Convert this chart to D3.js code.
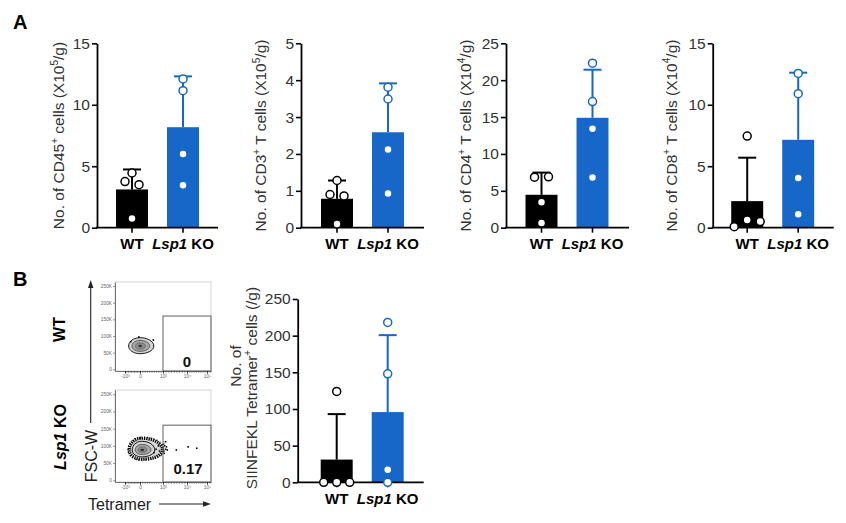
<!DOCTYPE html>
<html><head><meta charset="utf-8">
<script src="https://cdn.jsdelivr.net/npm/d3@7"></script>
<style>
body{margin:0;background:#fff}
svg{display:block}
text{font-family:"Liberation Sans",Arial,Helvetica,sans-serif}
</style>
</head><body>
<svg id="c" width="846" height="523"></svg>
<script>
// ---------------- data ----------------
const groups = ["WT", "Lsp1 KO"];
const cd45WT = [4.45, 3.75, 3.5, 0.75];
const cd45KO = [12.1, 11.15, 6.0, 3.45];
const cd3WT = [1.28, 0.9, 0.86, 0.1];
const cd3KO = [3.81, 3.49, 2.12, 0.93];
const cd4WT = [6.85, 6.9, 3.45, 0.65];
const cd4KO = [22.3, 17.1, 13.4, 6.8];
const cd8WT = [7.45, 0.08, 0.62, 0.5];
const cd8KO = [12.55, 10.9, 4.05, 1.1];
const tetWT = [124, 0, 0, 0];
const tetKO = [218, 148, 17, 0];

const ticksCD45 = [0, 5, 10, 15];
const ticksCD3 = [0, 1, 2, 3, 4, 5];
const ticksCD4 = [0, 5, 10, 15, 20, 25];
const ticksCD8 = [0, 5, 10, 15];
const ticksTet = [0, 50, 100, 150, 200, 250];

// flow cytometry panel data
const flowXDomain = [-1667, -1000, 0, 1000, 10000, 100000, 262144];
const flowXTicks = [-1000, 0, 1000, 10000, 100000];
const flowXTickLabels = ["-10³", "0", "10³", "10⁴", "10⁵"];
const flowYTicks = [0, 50000, 100000, 150000, 200000, 250000];
const flowYTickLabels = ["0", "50K", "100K", "150K", "200K", "250K"];
const gateLow = [1000, 160000];
const gateFreq = ["0", "0.17"];
const wtCenter = [0, 70000];
const wtLevels = [[760, 600, 25000, 23000], [540, 420, 17000, 16000], [300, 240, 9500, 9500], [110, 90, 3500, 3500]];
const wtEvents = [[-620, 83000], [580, 88000], [-80, 97000]];
const koCenter = [100, 88000];
const koRing = [820, 880, 34000, 27000];
const koLevels = [[620, 540, 25000, 20000], [420, 380, 16000, 13000], [220, 200, 9000, 7000], [90, 80, 3500, 3500]];
const koEvents = [[700, 90000], [800, 100000], [600, 80000], [850, 85000], [1100, 95000], [1300, 85000],
  [1600, 100000], [1200, 105000], [1500, 78000], [2000, 90000], [2600, 88000], [1950, 112000],
  [2300, 97000], [6000, 88000], [15300, 97000], [54000, 93000], [0, 122000]];

// ---------------- drawing ----------------
const BLUE = "#1767c9";
const svg = d3.select("#c");

function addParts(sel, parts, size) {
  let shifted = false;
  parts.forEach(([s, sup]) => {
    const t = sel.append("tspan").text(s);
    if (sup) { t.attr("font-size", size * 0.65).attr("dy", -size * 0.42); shifted = true; }
    else if (shifted) { t.attr("dy", size * 0.42); shifted = false; }
  });
}

function swarm(vals, y) {
  const idx = vals.map((v, i) => i).sort((a, b) => vals[b] - vals[a]);
  const grs = []; let cur = [idx[0]];
  for (let k = 1; k < idx.length; k++) {
    if (Math.abs(y(vals[idx[k]]) - y(vals[idx[k - 1]])) < 7) cur.push(idx[k]);
    else { grs.push(cur); cur = [idx[k]]; }
  }
  grs.push(cur);
  const off = new Array(vals.length).fill(0);
  grs.forEach(gr => {
    gr.sort((a, b) => a - b);
    const n = gr.length, sp = n === 2 ? 14 : 13;
    gr.forEach((id, j) => off[id] = (j - (n - 1) / 2) * sp);
  });
  return off;
}

function drawBar(cfg) {
  const g = svg.append("g");
  const y = d3.scaleLinear().domain([0, cfg.max]).range([cfg.bottom, cfg.top]);
  const x = d3.scaleBand().domain(groups)
    .range([cfg.axisX + cfg.c1 - 25.5, cfg.axisX + cfg.c1 + 51 + 25.5])
    .paddingInner(0.373).paddingOuter(0.1865);
  const series = [
    {key: groups[0], vals: cfg.wt, color: "#000"},
    {key: groups[1], vals: cfg.ko, color: BLUE}
  ];
  series.forEach(s => { s.mean = d3.mean(s.vals); s.sd = d3.deviation(s.vals); s.cx = x(s.key) + x.bandwidth() / 2; });

  g.selectAll("rect.bar").data(series).join("rect").attr("class", "bar")
    .attr("x", d => x(d.key)).attr("width", x.bandwidth())
    .attr("y", d => y(d.mean)).attr("height", d => y(0) - y(d.mean))
    .attr("fill", d => d.color);

  series.forEach(s => {
    g.append("line").attr("x1", s.cx).attr("x2", s.cx)
      .attr("y1", y(s.mean)).attr("y2", y(s.mean + s.sd))
      .attr("stroke", s.color).attr("stroke-width", 2);
    g.append("line").attr("x1", s.cx - 9).attr("x2", s.cx + 9)
      .attr("y1", y(s.mean + s.sd)).attr("y2", y(s.mean + s.sd))
      .attr("stroke", s.color).attr("stroke-width", 2);
  });

  // y axis
  const ya = g.append("g").attr("transform", `translate(${cfg.axisX},0)`)
    .call(d3.axisLeft(y).tickValues(cfg.ticks).tickFormat(d => String(d)).tickSize(5).tickPadding(2).tickSizeOuter(0));
  ya.select(".domain").attr("stroke", "#000").attr("stroke-width", 1.8);
  ya.selectAll(".tick line").attr("stroke", "#000").attr("stroke-width", 1.6);
  ya.selectAll(".tick text").attr("font-size", 15.5).attr("fill", "#333")
    .attr("font-family", '"Liberation Sans",Arial,sans-serif');

  // x axis
  const xa = g.append("g").attr("transform", `translate(0,${cfg.bottom})`)
    .call(d3.axisBottom(x).tickSize(5).tickFormat(""));
  xa.select(".domain").remove();
  xa.selectAll(".tick line").attr("stroke", "#000").attr("stroke-width", 1.6);
  g.append("line").attr("x1", cfg.axisX - 0.9).attr("x2", cfg.axisX + cfg.endOff)
    .attr("y1", cfg.bottom).attr("y2", cfg.bottom).attr("stroke", "#000").attr("stroke-width", 1.8);

  // x labels
  series.forEach((s, i) => {
    const t = g.append("text").attr("x", s.cx).attr("y", cfg.bottom + 21.5)
      .attr("text-anchor", "middle").attr("font-size", 15).attr("font-weight", "bold").attr("fill", "#000");
    if (i === 0) t.text(s.key);
    else {
      const [a, b] = s.key.split(" ");
      t.append("tspan").attr("font-style", "italic").text(a);
      t.append("tspan").text(" " + b);
    }
  });

  // y title
  cfg.label.forEach(lb => {
    const t = g.append("text").attr("text-anchor", "middle").attr("font-size", 15.5).attr("fill", "#333")
      .attr("transform", `translate(${cfg.axisX - lb.dx},${lb.cy}) rotate(-90)`);
    addParts(t, lb.parts, 15.5);
  });

  // points
  series.forEach(s => {
    const offs = swarm(s.vals, y);
    g.selectAll(null).data(s.vals).join("circle")
      .attr("cx", (d, i) => s.cx + offs[i]).attr("cy", d => y(d)).attr("r", 4)
      .attr("fill", "#fff").attr("stroke", s.color).attr("stroke-width", 1.5);
  });
}

const aTop = 43.3, aBot = 227.7, aMid = (aTop + aBot) / 2;
drawBar({axisX: 97, top: aTop, bottom: aBot, max: 15, ticks: ticksCD45, wt: cd45WT, ko: cd45KO, c1: 35, endOff: 121,
  label: [{dx: 33, cy: aMid, parts: [["No. of CD45", 0], ["+", 1], [" cells (X10", 0], ["5", 1], ["/g)", 0]]}]});
drawBar({axisX: 301, top: aTop, bottom: aBot, max: 5, ticks: ticksCD3, wt: cd3WT, ko: cd3KO, c1: 36, endOff: 123,
  label: [{dx: 35, cy: aMid, parts: [["No. of CD3", 0], ["+", 1], [" T cells (X10", 0], ["5", 1], ["/g)", 0]]}]});
drawBar({axisX: 506, top: aTop, bottom: aBot, max: 25, ticks: ticksCD4, wt: cd4WT, ko: cd4KO, c1: 35.5, endOff: 123,
  label: [{dx: 35, cy: aMid, parts: [["No. of CD4", 0], ["+", 1], [" T cells (X10", 0], ["4", 1], ["/g)", 0]]}]});
drawBar({axisX: 712.7, top: aTop, bottom: aBot, max: 15, ticks: ticksCD8, wt: cd8WT, ko: cd8KO, c1: 34.5, endOff: 121,
  label: [{dx: 36, cy: aMid, parts: [["No. of CD8", 0], ["+", 1], [" T cells (X10", 0], ["4", 1], ["/g)", 0]]}]});
drawBar({axisX: 297.7, top: 299, bottom: 482.3, max: 250, ticks: ticksTet, wt: tetWT, ko: tetKO, c1: 39, endOff: 126,
  label: [
    {dx: 56.5, cy: 366, parts: [["No. of", 0]]},
    {dx: 40.5, cy: 388, parts: [["SIINFEKL Tetramer", 0], ["+", 1], [" cells (/g)", 0]]}
  ]});

// panel letters
svg.append("text").attr("x", 13).attr("y", 29).attr("font-size", 20).attr("font-weight", "bold").text("A");
svg.append("text").attr("x", 13).attr("y", 286).attr("font-size", 20).attr("font-weight", "bold").text("B");

// ---------------- flow plots ----------------
function drawFlow(cfg) {
  const {left, right, top, bottom} = cfg;
  const g = svg.append("g");
  const xs = d3.scaleLinear().domain(flowXDomain).range([0, 10, 25, 48, 72, 92, 96].map(o => left + o));
  const ys = d3.scaleLinear().domain([-5000, 262144]).range([bottom, top]);

  g.append("rect").attr("x", left).attr("y", top).attr("width", right - left).attr("height", bottom - top)
    .attr("fill", "#fff").attr("stroke", "#cfcfcf").attr("stroke-width", 0.9);

  const ellipse = (c, lv) => {
    const pts = d3.range(40).map(k => {
      const a = k / 40 * 2 * Math.PI, dx = Math.cos(a), dy = Math.sin(a);
      const vx = c[0] + (dx < 0 ? dx * lv[0] : dx * lv[1]);
      const vy = c[1] + (dy > 0 ? dy * lv[2] : dy * lv[3]);
      return [xs(vx), ys(vy)];
    });
    return d3.line().curve(d3.curveCardinalClosed)(pts);
  };

  if (cfg.ring) {
    g.append("path").attr("d", ellipse(cfg.center, cfg.ring)).attr("fill", "#d8d8d8")
      .attr("stroke", "#000").attr("stroke-width", 3.2).attr("stroke-dasharray", "1.3 1");
    g.append("path").attr("d", ellipse(cfg.center, cfg.ring.map(v => v * 1.1))).attr("fill", "none")
      .attr("stroke", "#000").attr("stroke-width", 1.3).attr("stroke-dasharray", "0.9 2.4");
  }
  const fills = ["#d4d4d4", "#a6a6a6", "#8e8e8e", "#333"];
  const strokes = [0.9, 0.7, 0.4, 0];
  cfg.levels.forEach((lv, i) => {
    g.append("path").attr("d", ellipse(cfg.center, lv)).attr("fill", fills[i])
      .attr("stroke", i === 0 ? "#000" : "#333").attr("stroke-width", strokes[i]);
  });
  g.selectAll(null).data(cfg.events).join("rect")
    .attr("x", d => xs(d[0]) - 0.8).attr("y", d => ys(d[1]) - 0.8).attr("width", 1.6).attr("height", 1.6).attr("fill", "#000");

  // gate
  g.append("rect").attr("x", xs(gateLow[0])).attr("y", ys(gateLow[1]))
    .attr("width", right - xs(gateLow[0])).attr("height", bottom - ys(gateLow[1]))
    .attr("fill", "none").attr("stroke", "#6e6e6e").attr("stroke-width", 1.1);
  g.append("text").attr("x", cfg.freqX).attr("y", cfg.freqY).attr("text-anchor", "middle")
    .attr("font-family", '"Liberation Sans Narrow","Arial Narrow","DejaVu Sans Condensed",sans-serif')
    .attr("font-weight", "bold").attr("font-size", 15).attr("fill", "#111").text(cfg.freq);

  // axes
  const ya = g.append("g").attr("transform", `translate(${left},0)`)
    .call(d3.axisLeft(ys).tickValues(flowYTicks).tickFormat((d, i) => flowYTickLabels[i]).tickSize(2).tickPadding(1).tickSizeOuter(0));
  ya.select(".domain").attr("stroke", "#555").attr("stroke-width", 0.8);
  ya.selectAll(".tick line").attr("stroke", "#555").attr("stroke-width", 0.6);
  ya.selectAll(".tick text").attr("font-size", 4.8).attr("fill", "#666");

  const minors = [];
  for (let v = -1000; v <= 1000; v += 100) minors.push(v);
  [1000, 10000, 100000].forEach(b => { for (let m = 2; m <= 9; m++) if (b * m < 262144) minors.push(b * m); });
  const xm = g.append("g").attr("transform", `translate(0,${bottom})`)
    .call(d3.axisBottom(xs).tickValues(minors).tickSize(1.6).tickFormat(""));
  xm.select(".domain").remove();
  xm.selectAll(".tick line").attr("stroke", "#333").attr("stroke-width", 0.7);
  const xa = g.append("g").attr("transform", `translate(0,${bottom})`)
    .call(d3.axisBottom(xs).tickValues(flowXTicks).tickFormat((d, i) => flowXTickLabels[i]).tickSize(2.6).tickPadding(1).tickSizeOuter(0));
  xa.select(".domain").attr("stroke", "#555").attr("stroke-width", 0.8);
  xa.selectAll(".tick line").attr("stroke", "#222").attr("stroke-width", 0.9);
  xa.selectAll(".tick text").attr("font-size", 4.8).attr("fill", "#666");
}

drawFlow({left: 115, right: 211, top: 282, bottom: 371, center: wtCenter, levels: wtLevels, events: wtEvents,
  freq: gateFreq[0], freqX: 187, freqY: 367});
drawFlow({left: 115, right: 211, top: 390, bottom: 482, center: koCenter, ring: koRing, levels: koLevels, events: koEvents,
  freq: gateFreq[1], freqX: 188, freqY: 474});

// row labels
svg.append("text").attr("transform", "translate(65,329.5) rotate(-90)").attr("text-anchor", "middle")
  .attr("font-size", 16).attr("font-weight", "bold").text("WT");
const kl = svg.append("text").attr("transform", "translate(66,437) rotate(-90)").attr("text-anchor", "middle")
  .attr("font-size", 16).attr("font-weight", "bold");
kl.append("tspan").attr("font-style", "italic").text("Lsp1");
kl.append("tspan").text(" KO");

// axis names with arrows
svg.append("text").attr("transform", "translate(96.5,456) rotate(-90)").attr("text-anchor", "middle")
  .attr("font-size", 16).attr("fill", "#222").text("FSC-W");
svg.append("line").attr("x1", 90.7).attr("x2", 90.7).attr("y1", 423).attr("y2", 286).attr("stroke", "#222").attr("stroke-width", 1.1);
svg.append("path").attr("d", "M90.7,280 L88,288 L93.4,288 Z").attr("fill", "#222");
svg.append("text").attr("x", 88).attr("y", 510).attr("font-size", 16).attr("fill", "#222").text("Tetramer");
svg.append("line").attr("x1", 159).attr("x2", 205).attr("y1", 504).attr("y2", 504).attr("stroke", "#222").attr("stroke-width", 1.1);
svg.append("path").attr("d", "M211,504 L203,501.3 L203,506.7 Z").attr("fill", "#222");
</script>
</body></html>
